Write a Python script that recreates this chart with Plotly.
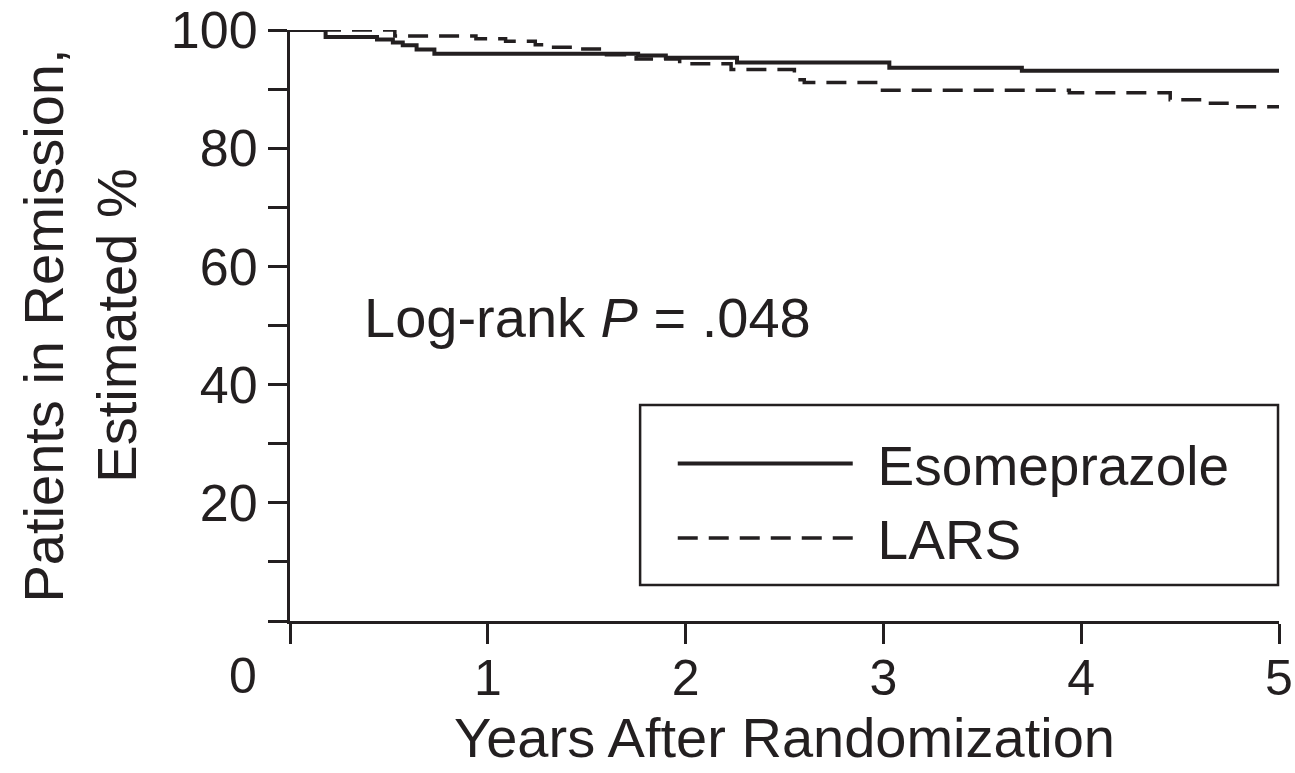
import plotly.graph_objects as go

# ---- data ----
eso_years = [0, 0.18, 0.44, 0.52, 0.57, 0.64, 0.73, 1.76, 1.90, 2.26, 3.03, 3.70, 5.0]
eso_pct = [100, 98.8, 98.4, 97.9, 97.4, 96.7, 96.0, 95.7, 95.3, 94.5, 93.6, 93.1, 93.1]

lars_years = [0, 0.53, 0.94, 1.09, 1.24, 1.32, 1.47, 1.60, 1.75, 1.97, 2.23, 2.55, 2.60,
              2.98, 3.94, 4.45, 4.64, 4.78, 5.0]
lars_pct = [100, 99.0, 98.5, 98.1, 97.5, 97.1, 96.8, 95.8, 95.1, 94.3, 93.3, 91.6, 91.1,
            89.8, 89.4, 88.2, 87.6, 87.0, 87.0]

series_names = ["Esomeprazole", "LARS"]

x_tickvals = [0, 1, 2, 3, 4, 5]
x_ticktext = ["", "1", "2", "3", "4", "5"]
y_tickvals = [0, 10, 20, 30, 40, 50, 60, 70, 80, 90, 100]
y_ticktext = ["", "", "20", "", "40", "", "60", "", "80", "", "100"]

INK = "#231f20"
FONT = "Liberation Sans, Arial, Helvetica, sans-serif"
PAD = "\u00a0\u200a"  # small gap between legend line sample and its text

fig = go.Figure()
fig.add_trace(go.Scatter(
    x=eso_years, y=eso_pct, name=PAD + series_names[0], mode="lines",
    line=dict(color=INK, width=4, shape="hv"), cliponaxis=False,
))
fig.add_trace(go.Scatter(
    x=lars_years, y=lars_pct, name=PAD + series_names[1], mode="lines",
    line=dict(color=INK, width=3.5, shape="hv", dash="20px,11px"), cliponaxis=False,
))

fig.update_layout(
    width=1295, height=773,
    margin=dict(l=290, r=16, t=30, b=152, autoexpand=False),
    paper_bgcolor="white", plot_bgcolor="white",
    font=dict(family=FONT, size=50, color=INK),
    showlegend=True,
    legend=dict(
        x=0.387, y=0.338, xanchor="left", yanchor="top",
        bgcolor="rgba(0,0,0,0)", borderwidth=0,
        font=dict(family=FONT, size=55, color=INK),
        itemwidth=175,
    ),
    xaxis=dict(
        range=[0, 5], showgrid=False, zeroline=False, automargin=False,
        showline=True, linecolor=INK, linewidth=3,
        ticks="outside", ticklen=20, tickwidth=2.5, tickcolor=INK,
        tickvals=x_tickvals, ticktext=x_ticktext, ticklabelstandoff=-9,
        ticklabeloverflow="allow",
        tickfont=dict(family=FONT, size=50, color=INK),
        title=dict(text="Years After Randomization",
                   font=dict(family=FONT, size=56, color=INK), standoff=12),
    ),
    yaxis=dict(
        range=[0, 100], showgrid=False, zeroline=False, automargin=False,
        showline=True, linecolor=INK, linewidth=3,
        ticks="outside", ticklen=19, tickwidth=2.5, tickcolor=INK,
        tickvals=y_tickvals, ticktext=y_ticktext, ticklabeloverflow="allow",
        tickfont=dict(family=FONT, size=52, color=INK),
        title=dict(text="Patients in Remission,<br>Estimated %",
                   font=dict(family=FONT, size=56, color=INK), standoff=17),
    ),
    shapes=[dict(type="rect", xref="paper", yref="paper",
                 x0=0.354, x1=0.999, y0=0.061, y1=0.3655,
                 line=dict(color=INK, width=2.5), fillcolor="rgba(0,0,0,0)")],
    annotations=[
        dict(text="0", xref="x", yref="paper", x=0, y=-0.093, xshift=-47,
             xanchor="center", yanchor="middle", showarrow=False,
             font=dict(family=FONT, size=50, color=INK)),
        dict(text="Log-rank <i>P</i> = .048", xref="x", yref="y", x=0.364, y=51.4,
             xanchor="left", yanchor="middle", showarrow=False,
             font=dict(family=FONT, size=56, color=INK)),
    ],
)

fig.write_html(
    "out.html",
    config={"displayModeBar": False},
    post_script="document.body.style.margin='0';document.body.style.overflow='hidden';",
)
